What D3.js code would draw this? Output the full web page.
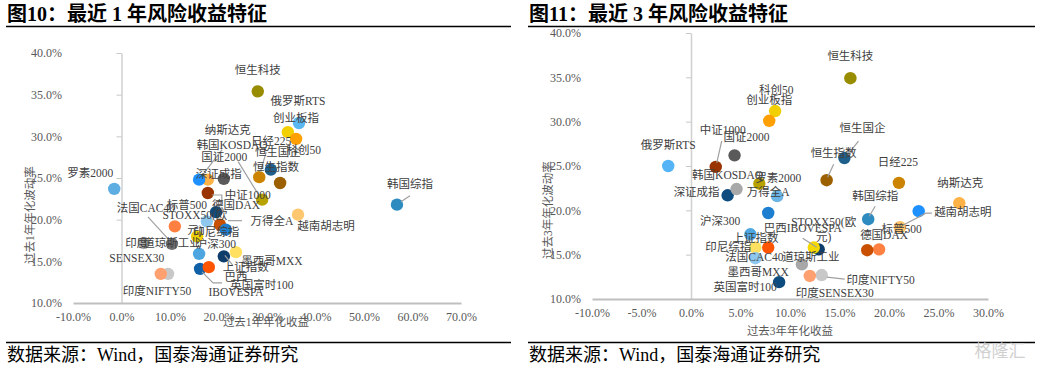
<!DOCTYPE html>
<html>
<head>
<meta charset="utf-8">
<script src="https://cdn.jsdelivr.net/npm/d3@7"></script>
<style>
  body { margin: 0; background: #fff; }
  text { font-family: "Liberation Serif", "Noto Sans CJK SC", serif; }
  .tick text { fill: #595959; font-size: 12px; }
  .lbl { fill: #404040; font-size: 11.5px; }
  .axtitle { fill: #595959; font-size: 11.5px; }
</style>
</head>
<body>
<svg id="chart" width="1041" height="365"></svg>
<script>
// ---- 最近1年 (left) ----
const leftNames = ["恒生科技","俄罗斯RTS","科创50","创业板指","恒生国企","日经225","恒生指数","纳斯达克","韩国KOSDAQ","国证2000",
  "深证成指","罗素2000","中证1000","韩国综指","越南胡志明","万得全A","德国DAX","标普500","STOXX50(欧元)","法国CAC40",
  "印尼综指","沪深300","道琼斯工业","印度SENSEX30","印度NIFTY50","","巴西IBOVESPA","英国富时100","上证指数","墨西哥MXX"];
const leftReturn = [28.1, 36.6, 34.3, 36.0, 30.8, 28.4, 32.7, 17.8, 16.0, 29.0,
  21.1, -1.5, 17.8, 56.8, 36.4, 20.3, 19.5, 11.0, 17.6, 10.4,
  15.6, 21.5, 16.0, 4.6, 9.6, 8.1, 16.2, 18.0, 21.1, 23.6];
const leftVol = [35.4, 31.6, 30.5, 29.7, 26.0, 25.1, 24.4, 24.8, 24.8, 22.4,
  24.9, 23.7, 23.2, 21.8, 20.6, 19.4, 20.9, 19.2, 19.8, 17.1,
  18.0, 18.8, 15.9, 17.2, 13.5, 13.5, 14.1, 14.3, 15.6, 16.1];

// ---- 最近3年 (right) ----
const rightNames = ["恒生科技","科创50","创业板指","恒生国企","恒生指数","日经225","纳斯达克","越南胡志明","标普500","韩国综指",
  "德国DAX","","印度NIFTY50","印度SENSEX30","STOXX50(欧元)","巴西IBOVESPA","道琼斯工业","英国富时100","沪深300","上证指数",
  "印尼综指","墨西哥MXX","法国CAC40","深证成指","万得全A","韩国KOSDAQ","罗素2000","中证1000","国证2000","俄罗斯RTS"];
const rightReturn = [16.1, 8.5, 7.9, 15.5, 13.7, 21.0, 27.1, 21.1, 23.0, 17.9,
  19.0, 17.8, 13.2, 12.0, 12.9, 12.4, 11.2, 8.9, 7.8, 6.0,
  6.5, 7.8, 6.5, 3.7, 8.7, 4.6, 6.9, 2.5, 4.4, -2.3];
const rightVol = [34.9, 31.2, 30.1, 25.9, 23.4, 23.1, 20.8, 18.1, 19.9, 19.0,
  15.6, 15.5, 12.7, 12.6, 15.6, 15.8, 13.9, 11.9, 19.7, 17.3,
  15.8, 15.8, 14.6, 21.7, 21.6, 22.4, 23.0, 24.9, 26.2, 25.0];

const yTicks = [10, 15, 20, 25, 30, 35, 40];
const leftXTicks = [-10, 0, 10, 20, 30, 40, 50, 60, 70];
const rightXTicks = [-10, -5, 0, 5, 10, 15, 20, 25, 30];

// styles / label layout
const leftColors = ["#988C00","#5BB7F2","#F2CF00","#FFA000","#1F5F8B","#CC8400","#9C6000","#FFB347","#1E90FF","#B8A200",
  "#5A5A5A","#5DADE2","#993300","#2E8BC0","#FFC870","#C85000","#0E4C80","#FF8040","#8EC8EE","#707070",
  "#F0D000","#1E7FD0","#4DA6E0","#A8A8A8","#C8C8C8","#FFA070","#1060A8","#FF5500","#0E3D6B","#FFE060"];
const rightColors = ["#988C00","#F2CF00","#FFA000","#1F5F8B","#9C6000","#CC8400","#FFB347","#FFC46A","#1E90FF","#2E8BC0",
  "#FF8040","#C85000","#C8C8C8","#FFA070","#0E3D6B","#F5D800","#A8A8A8","#0E4C80","#1E7FD0","#4DA6E0",
  "#FFE060","#FF5500","#8EC8EE","#0E4C80","#6CB4E4","#A8A8A8","#B8A200","#993300","#5A5A5A","#55B4F5"];
const leftLabelOffsets = [[0,-21],[-1,-22],[16,18],[0,-21],[7,-18],[12,-36],[-4,-16],[20,-50],[33,-35],[-38,-43],
  [-5,-5],[-24,-16],[40,2],[13,-21],[28,11],[52,-4],[20,-7],[12,-21],[-12,-6],[-26,-36],
  [19,-4],[-10,14],[-27,-11],[-7,0],[-11,17],[0,0],[36,8],[53,18],[22,11],[36,9]];
const rightLabelOffsets = [[0,-22],[1,-21],[0,-21],[18,-30],[7,-27],[-1,-21],[1,-20],[63,-15],[-17,18],[7,-23],
  [5,-14],[0,0],[59,5],[25,17],[5,-27],[-11,-20],[9,-7],[-34,5],[-48,8],[5,4],
  [-27,-1],[-10,24],[-1,-1],[-31,-3],[-9,-4],[-9,-14],[19,-6],[7,-37],[12,-18],[0,-21]];
const leftWrap = {"STOXX50(欧元)": "STOXX50(欧\n元)", "印度SENSEX30": "印度\nSENSEX30", "巴西IBOVESPA": "巴西\nIBOVESPA"};
const rightWrap = {"STOXX50(欧元)": "STOXX50(欧\n元)"};
const leftLeaders = {"日经225": [[1,-5],[7,-25]], "韩国KOSDAQ": [[3,-4],[23,-30]], "国证2000": [[-3,-4],[-24,-38]],
  "中证1000": [[4,2],[14,2],[14,11]], "韩国综指": [[4,-3],[13,-9]], "法国CAC40": [[-2,-3],[-24,-27]],
  "万得全A": [[8,-4],[22,-4]], "巴西IBOVESPA": [[2,3],[13,14],[22,14]], "上证指数": [[1,-1],[9,9]]};
const rightLeaders = {"恒生国企": [[3,-3],[14,-17]], "恒生指数": [[1,-3],[7,-16]], "韩国综指": [[1,-3],[7,-13]],
  "越南胡志明": [[3,-2],[26,-14],[32,-14]], "中证1000": [[1,-4],[6,-26]], "STOXX50(欧元)": [[-2,-2],[-16,-11]],
  "印度NIFTY50": [[5,2],[23,4]]};

const svg = d3.select("#chart");
const fmt = d => d.toFixed(1) + "%";

function drawPanel(p) {
  const g = svg.append("g");

  // header / footer
  g.append("text").attr("x", p.left + 1).attr("y", 21)
    .style("font-size", "20px").style("font-weight", "bold").attr("fill", "#000")
    .text(p.title);
  g.append("line").attr("x1", p.left).attr("x2", p.right).attr("y1", 26.5).attr("y2", 26.5)
    .attr("stroke", "#000").attr("stroke-width", 1.5);
  g.append("line").attr("x1", p.left).attr("x2", p.right).attr("y1", 342.5).attr("y2", 342.5)
    .attr("stroke", "#000").attr("stroke-width", 1.5);
  g.append("text").attr("x", p.left + 1).attr("y", 361)
    .style("font-size", "18px").attr("fill", "#000")
    .text("数据来源：Wind，国泰海通证券研究");

  const x = d3.scaleLinear().domain(d3.extent(p.xTicks)).range(p.xRange);
  const y = d3.scaleLinear().domain([10, 40]).range(p.yRange);

  // y axis sits at x=0, labels pushed to the far left
  const ya = g.append("g").attr("transform", `translate(${x(0)},0)`)
    .call(d3.axisLeft(y).tickValues(yTicks).tickSize(5).tickSizeOuter(0).tickFormat(fmt));
  ya.select(".domain").attr("stroke", "#D0D0D0").attr("stroke-width", 1.5);
  ya.selectAll(".tick line").attr("stroke", "#C8C8C8");
  ya.selectAll(".tick text").attr("x", p.yLabelRight - x(0));

  const xa = g.append("g").attr("transform", `translate(0,${y(10)})`)
    .call(d3.axisBottom(x).tickValues(p.xTicks).tickSize(0).tickSizeOuter(0).tickPadding(9).tickFormat(fmt));
  xa.select(".domain").attr("stroke", "#BFBFBF").attr("stroke-width", 2);

  // axis titles
  g.append("text").attr("class", "axtitle").attr("text-anchor", "middle")
    .attr("x", p.xTitle[0]).attr("y", p.xTitle[1]).attr("dy", "0.35em").text(p.xTitleText);
  g.append("text").attr("class", "axtitle").attr("text-anchor", "middle")
    .attr("transform", `translate(${p.yTitle[0]},${p.yTitle[1]}) rotate(-90)`)
    .attr("dy", "0.35em").text(p.yTitleText);

  const pts = p.names.map((n, i) => ({
    name: n, cx: x(p.ret[i]), cy: y(p.vol[i]), color: p.colors[i], off: p.offsets[i]
  }));

  g.append("g").selectAll("circle").data(pts).join("circle")
    .attr("cx", d => d.cx).attr("cy", d => d.cy).attr("r", 6.2)
    .attr("fill", d => d.color);

  g.append("g").selectAll("polyline").data(pts.filter(d => p.leaders[d.name])).join("polyline")
    .attr("points", d => p.leaders[d.name].map(q => [d.cx + q[0], d.cy + q[1]].join(",")).join(" "))
    .attr("fill", "none").attr("stroke", "#A0A0A0").attr("stroke-width", 1.2);

  const lbl = g.append("g").selectAll("text").data(pts.filter(d => d.name)).join("text")
    .attr("class", "lbl").attr("text-anchor", "middle")
    .attr("x", d => d.cx + d.off[0]).attr("y", d => d.cy + d.off[1]);
  lbl.each(function(d) {
    const lines = (p.wrap[d.name] || d.name).split("\n");
    d3.select(this).selectAll("tspan").data(lines).join("tspan")
      .attr("x", d.cx + d.off[0])
      .attr("dy", (t, k) => k === 0 ? "0.35em" : "15px")
      .text(t => t);
  });
}

drawPanel({
  title: "图10：最近 1 年风险收益特征", left: 6, right: 511,
  names: leftNames, ret: leftReturn, vol: leftVol, colors: leftColors,
  offsets: leftLabelOffsets, wrap: leftWrap, leaders: leftLeaders,
  xTicks: leftXTicks, xRange: [73, 461], yRange: [303, 53], yLabelRight: 62,
  xTitleText: "过去1年年化收益", xTitle: [266, 322],
  yTitleText: "过去1年年化波动率", yTitle: [30, 215]
});

drawPanel({
  title: "图11：最近 3 年风险收益特征", left: 528, right: 1035,
  names: rightNames, ret: rightReturn, vol: rightVol, colors: rightColors,
  offsets: rightLabelOffsets, wrap: rightWrap, leaders: rightLeaders,
  xTicks: rightXTicks, xRange: [592, 988], yRange: [299, 33], yLabelRight: 581,
  xTitleText: "过去3年年化收益", xTitle: [790, 331],
  yTitleText: "过去3年年化波动率", yTitle: [548, 210]
});

// watermark
svg.append("text").attr("x", 1000).attr("y", 357).attr("text-anchor", "middle")
  .style("font-size", "17px").attr("fill", "#D0D0D0").text("格隆汇");
</script>
</body>
</html>
